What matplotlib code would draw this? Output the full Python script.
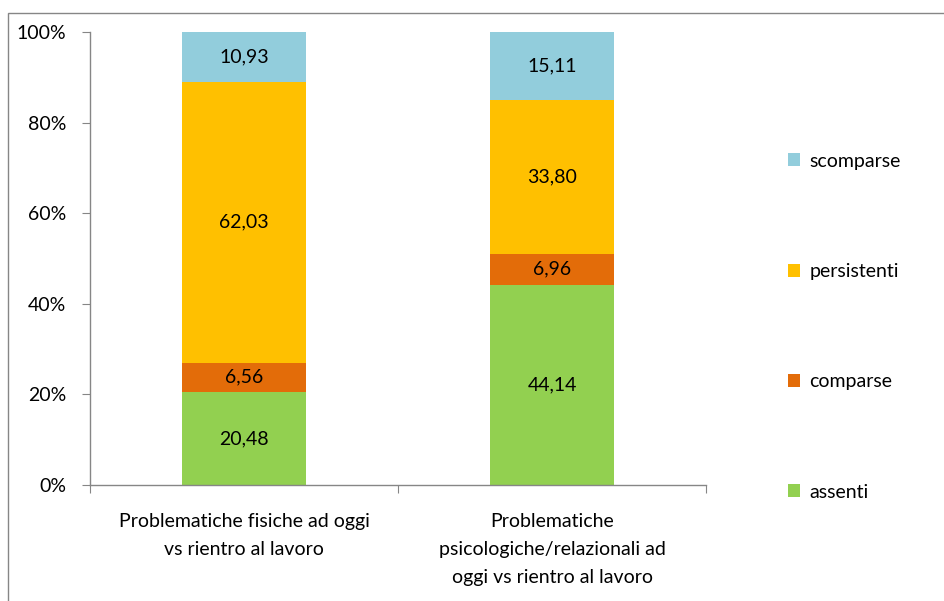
import matplotlib
matplotlib.use("Agg")
import matplotlib.pyplot as plt
from matplotlib.patches import Rectangle, Patch
import numpy as np

categories = ["Problematiche fisiche ad oggi\nvs rientro al lavoro",
              "Problematiche\npsicologiche/relazionali ad\noggi vs rientro al lavoro"]
series = ["assenti", "comparse", "persistenti", "scomparse"]
assenti = [20.48, 44.14]
comparse = [6.56, 6.96]
persistenti = [62.03, 33.80]
scomparse = [10.93, 15.11]
colors = ["#92D050", "#E36C09", "#FFC000", "#92CDDC"]

plt.rcParams['font.family'] = ['Lato', 'DejaVu Sans']
FS = 14

W, H = 944, 601
fig = plt.figure(figsize=(W/100, H/100), dpi=100)
ax = fig.add_axes([90/W, 1-485/H, (706-90)/W, (485-32)/H])

x = np.arange(len(categories))
data = [assenti, comparse, persistenti, scomparse]
bottom = np.zeros(len(categories))
for vals, col, name in zip(data, colors, series):
    vals = np.array(vals)
    ax.bar(x, vals, 0.4, bottom=bottom, color=col, label=name)
    for xi, b, v in zip(x, bottom, vals):
        ax.text(xi, b + v/2, f"{v:.2f}".replace('.', ','), ha='center', va='center',
                fontsize=FS, color='#000000')
    bottom += vals

ax.set_xlim(-0.5, 1.5)
ax.set_ylim(0, 100)
ax.set_yticks(np.arange(0, 101, 20))
ax.set_yticklabels([f"{v}%" for v in range(0, 101, 20)], fontsize=FS)
ax.set_xticks([-0.5, 0.5, 1.5], minor=False)
ax.set_xticklabels([])
ax.set_xticks(x, minor=True)
ax.set_xticklabels(categories, minor=True, fontsize=FS, linespacing=1.8)
ax.tick_params(axis='x', which='minor', length=0, pad=20)
ax.tick_params(axis='x', which='major', length=6, color='#868686')
ax.tick_params(axis='y', length=6, color='#868686', pad=11)
for s in ['top', 'right']:
    ax.spines[s].set_visible(False)
for s in ['left', 'bottom']:
    ax.spines[s].set_color('#868686')
    ax.spines[s].set_linewidth(1)

handles = [Patch(facecolor=c, label=n) for c, n in zip(colors, series)][::-1]
fig.legend(handles=handles, loc='upper left', bbox_to_anchor=(780/W, 1-145/H),
           frameon=False, fontsize=FS, labelspacing=4.8, handlelength=0.65,
           handleheight=0.65, handletextpad=0.45, borderaxespad=0)

fig.patches.append(Rectangle((8/W, -0.1), 1.2, 1 - 13/H + 0.1, transform=fig.transFigure,
                             fill=False, edgecolor='#868686', linewidth=1))

fig.savefig("out.png", dpi=100)
